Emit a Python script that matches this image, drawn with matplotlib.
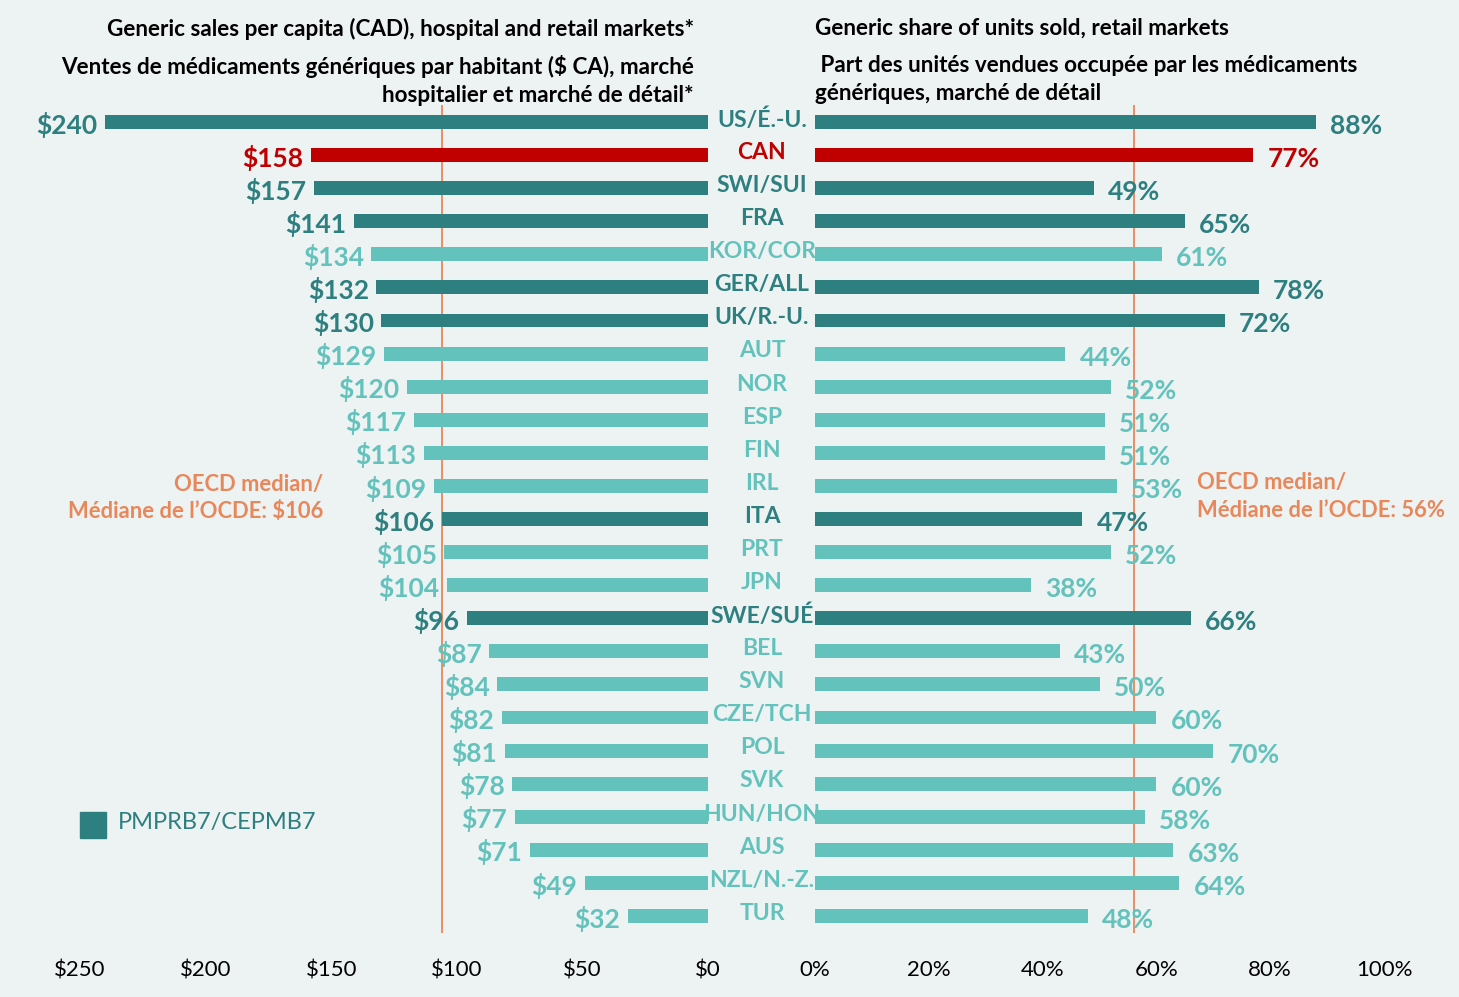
import matplotlib
matplotlib.use("Agg")
import matplotlib.pyplot as plt
from matplotlib.patches import Rectangle
from matplotlib.transforms import blended_transform_factory

countries = ["US/É.-U.", "CAN", "SWI/SUI", "FRA", "KOR/COR", "GER/ALL", "UK/R.-U.", "AUT", "NOR",
             "ESP", "FIN", "IRL", "ITA", "PRT", "JPN", "SWE/SUÉ", "BEL", "SVN", "CZE/TCH", "POL",
             "SVK", "HUN/HON", "AUS", "NZL/N.-Z.", "TUR"]
sales = [240, 158, 157, 141, 134, 132, 130, 129, 120, 117, 113, 109, 106, 105, 104, 96, 87, 84,
         82, 81, 78, 77, 71, 49, 32]
share = [88, 77, 49, 65, 61, 78, 72, 44, 52, 51, 51, 53, 47, 52, 38, 66, 43, 50, 60, 70, 60, 58,
         63, 64, 48]
group = ["pmprb", "can", "pmprb", "pmprb", "other", "pmprb", "pmprb", "other", "other", "other",
         "other", "other", "pmprb", "other", "other", "pmprb", "other", "other", "other", "other",
         "other", "other", "other", "other", "other"]
median_sales = 106
median_share = 56
left_ticks = [250, 200, 150, 100, 50, 0]
left_ticklabels = ["$250", "$200", "$150", "$100", "$50", "$0"]
right_ticks = [0, 20, 40, 60, 80, 100]
right_ticklabels = ["0%", "20%", "40%", "60%", "80%", "100%"]

DARK = "#2E7F80"
LIGHT = "#63C2BC"
RED = "#C00000"
ORANGE = "#E8875A"
BG = "#EDF2F2"
colmap = {"pmprb": DARK, "can": RED, "other": LIGHT}
colors = [colmap[g] for g in group]

plt.rcParams['font.family'] = ['Lato', 'DejaVu Sans']

W, H = 1459, 997
fig = plt.figure(figsize=(W / 100, H / 100), dpi=100, facecolor=BG)

def fx(px):
    return px / W

def fy(py):
    return 1 - py / H

top_px, bot_px = 105.5, 932.5
axL = fig.add_axes([fx(80), fy(bot_px), fx(708 - 80), (bot_px - top_px) / H])
axR = fig.add_axes([fx(815), fy(bot_px), fx(1384 - 815), (bot_px - top_px) / H])

n = len(countries)
ys = list(range(n))

for ax in (axL, axR):
    ax.set_facecolor("none")
    ax.set_ylim(n - 0.5, -0.5)
    for s in ax.spines.values():
        s.set_visible(False)
    ax.set_yticks([])
    ax.tick_params(axis="x", length=0, pad=20, labelsize=16)

axL.barh(ys, sales, height=0.42, color=colors)
axL.set_xlim(250, 0)
axL.set_xticks(left_ticks)
axL.set_xticklabels(left_ticklabels)
axL.axvline(median_sales, color=ORANGE, lw=1.3, zorder=0)

axR.barh(ys, share, height=0.42, color=colors)
axR.set_xlim(0, 100)
axR.set_xticks(right_ticks)
axR.set_xticklabels(right_ticklabels)
axR.axvline(median_share, color=ORANGE, lw=1.3, zorder=0)

for y, v, c in zip(ys, sales, colors):
    axL.text(v + 3, y + 0.08, f"${v}", ha="right", va="center", fontsize=19,
             fontweight="bold", color=c)
for y, v, c in zip(ys, share, colors):
    axR.text(v + 2.5, y + 0.12, f"{v}%", ha="left", va="center", fontsize=19,
             fontweight="bold", color=c)

trans = blended_transform_factory(fig.transFigure, axL.transData)
for y, name, c in zip(ys, countries, colors):
    axL.text(fx(762), y - 0.08, name, transform=trans, ha="center", va="center",
             fontsize=16.5, fontweight="bold", color=c, clip_on=False)

# Titles
tkw = dict(va="center", fontsize=16.2, fontweight="bold", color="black")
fig.text(fx(694), fy(29), "Generic sales per capita (CAD), hospital and retail markets*",
         ha="right", **tkw)
fig.text(fx(694), fy(67), "Ventes de médicaments génériques par habitant ($ CA), marché",
         ha="right", **tkw)
fig.text(fx(694), fy(95), "hospitalier et marché de détail*", ha="right", **tkw)
fig.text(fx(815), fy(28), "Generic share of units sold, retail markets", ha="left", **tkw)
fig.text(fx(815), fy(65), " Part des unités vendues occupée par les médicaments", ha="left", **tkw)
fig.text(fx(815), fy(93), "génériques, marché de détail", ha="left", **tkw)

# Median annotations
mkw = dict(va="center", fontsize=15.8, fontweight="bold", color=ORANGE)
fig.text(fx(323), fy(484), "OECD median/", ha="right", **mkw)
fig.text(fx(323), fy(512), "Médiane de l’OCDE: $106", ha="right", **mkw)
fig.text(fx(1197), fy(482), "OECD median/", ha="left", **mkw)
fig.text(fx(1197), fy(510), "Médiane de l’OCDE: 56%", ha="left", **mkw)

# Legend
fig.patches.append(Rectangle((fx(80), fy(838)), fx(26), 26 / H, transform=fig.transFigure,
                             color=DARK))
fig.text(fx(118), fy(822), "PMPRB7/CEPMB7", ha="left", va="center", fontsize=17, color=DARK)

fig.savefig("out.png", dpi=100, facecolor=BG)
